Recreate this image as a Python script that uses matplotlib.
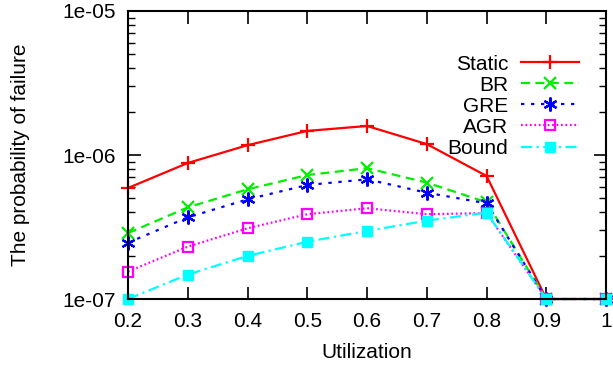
import matplotlib
matplotlib.use("Agg")
import matplotlib.pyplot as plt
from matplotlib.ticker import LogLocator, NullFormatter, FixedLocator

# data
util = [0.2, 0.3, 0.4, 0.5, 0.6, 0.7, 0.8, 0.9, 1.0]
static = [5.9e-7, 8.8e-7, 1.17e-6, 1.47e-6, 1.59e-6, 1.19e-6, 7.15e-7, 1e-7, 1e-7]
br = [2.87e-7, 4.33e-7, 5.78e-7, 7.26e-7, 8.1e-7, 6.43e-7, 4.7e-7, 1e-7, 1e-7]
gre = [2.46e-7, 3.69e-7, 4.92e-7, 6.19e-7, 6.78e-7, 5.47e-7, 4.62e-7, 1e-7, 1e-7]
agr = [1.55e-7, 2.31e-7, 3.1e-7, 3.88e-7, 4.27e-7, 3.88e-7, 3.95e-7, 1e-7, 1e-7]
bound = [1e-7, 1.48e-7, 1.99e-7, 2.5e-7, 2.97e-7, 3.5e-7, 3.98e-7, 1e-7, 1e-7]

xticks = [0.2, 0.3, 0.4, 0.5, 0.6, 0.7, 0.8, 0.9, 1.0]
xticklabels = ["0.2", "0.3", "0.4", "0.5", "0.6", "0.7", "0.8", "0.9", "1"]

plt.rcParams['font.family'] = ['Liberation Sans', 'DejaVu Sans']
plt.rcParams['font.size'] = 15

fig = plt.figure(figsize=(6.13, 3.66), dpi=100)
ax = fig.add_axes([0.2088, 0.183, 0.78, 0.787])

lw = 1.6
ax.plot(util, static, color='#ff0000', ls='-', lw=lw, marker='+', ms=10, mew=1.6, label='Static', clip_on=False)
ax.plot(util, br, color='#00ee00', ls=(0, (4, 2.5)), lw=lw, marker='x', ms=8, mew=1.6, label='BR', clip_on=False)
ax.plot(util, gre, color='#0000ff', ls=(0, (1.5, 3)), lw=lw, marker=(6, 2, 0), ms=10, mew=1.6, label='GRE', clip_on=False)
ax.plot(util, agr, color='#ff00ff', ls=(0, (0.8, 1.2)), lw=lw, marker='s', ms=7.5, mew=1.6, mfc='none', label='AGR', clip_on=False)
ax.plot(util, bound, color='#00ffff', ls=(0, (5, 2, 1, 2)), lw=lw, marker='s', ms=7.5, mew=1.0, label='Bound', clip_on=False)

ax.set_yscale('log')
ax.set_ylim(1e-7, 1e-5)
ax.set_xlim(0.2, 1.0)
ax.xaxis.set_major_locator(FixedLocator(xticks))
ax.set_xticklabels(xticklabels)
ax.yaxis.set_minor_locator(LogLocator(base=10, subs=range(2, 10), numticks=20))
ax.yaxis.set_minor_formatter(NullFormatter())
ax.set_yticks([1e-7, 1e-6, 1e-5])
ax.set_yticklabels(["1e-07", "1e-06", "1e-05"])

ax.tick_params(which='major', direction='in', length=9, width=1.2, top=True, right=True)
ax.tick_params(which='minor', direction='in', length=5, width=1.0, top=True, right=True)
ax.tick_params(axis='x', pad=9)
ax.tick_params(axis='y', pad=9)
for s in ax.spines.values():
    s.set_linewidth(1.5)

ax.set_xlabel('Utilization', labelpad=9)
ax.set_ylabel('The probability of failure', labelpad=23)

ax.legend(loc='upper right', bbox_to_anchor=(0.965, 0.885), frameon=False, markerfirst=False,
          handlelength=2.8, handletextpad=0.6, labelspacing=0.1, borderpad=0)

fig.savefig('out.png', dpi=100)
